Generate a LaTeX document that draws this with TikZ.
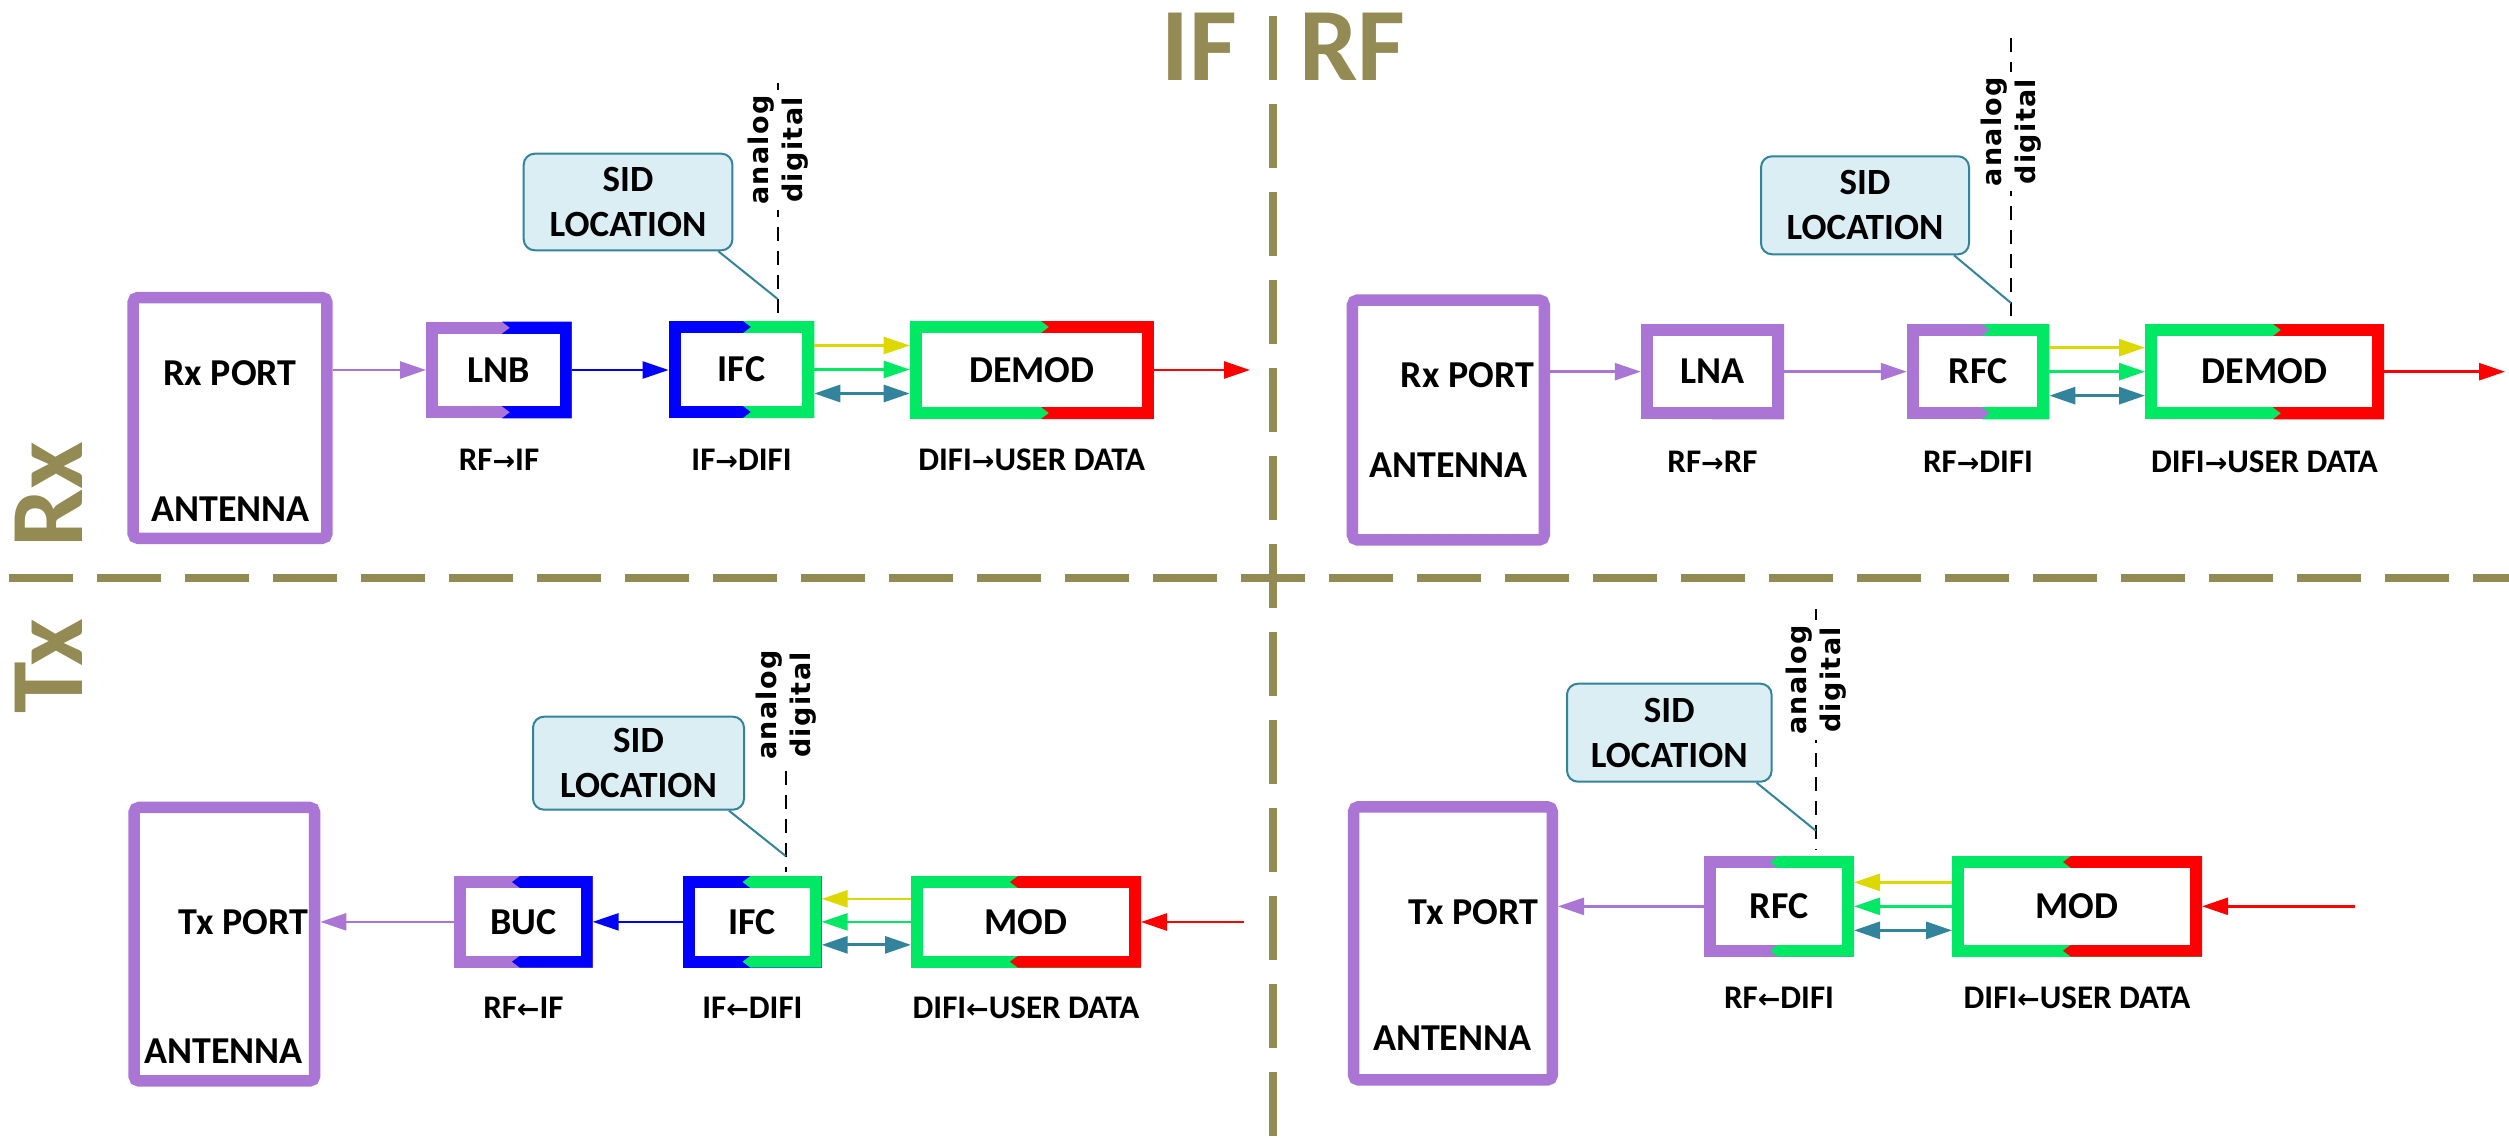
\documentclass[tikz,border=0pt]{standalone}
\usepackage{fontspec}
\setmainfont{Carlito}
\newfontfamily\dvls{DejaVu Sans}[LetterSpace=5]
\newfontfamily\dvar{DejaVu Sans}
\usetikzlibrary{arrows.meta,calc}
\definecolor{olive}{HTML}{948A54}
\definecolor{cpurple}{RGB}{171,117,214}
\definecolor{cblue}{RGB}{0,0,255}
\definecolor{cgreen}{RGB}{0,232,100}
\definecolor{cred}{RGB}{255,0,0}
\definecolor{cyellow}{RGB}{221,216,0}
\definecolor{cteal}{RGB}{49,132,155}
\definecolor{sidfill}{RGB}{219,238,244}
\newcommand\myra{{\dvar\fontsize{27}{27}\selectfont →}}
\newcommand\myla{{\dvar\fontsize{27}{27}\selectfont ←}}
\def\chev{8}
\newcommand\dbox[9]{%
  \fill[#7] (#2,#3) rectangle (#4,#5);
  \fill[#8] (#6,#3) -- (#4,#3) -- (#4,#5) -- (#6,#5) -- ++(\chev,-6) -- ++(-\chev,-6) -- (#6,#3+12) -- ++(\chev,-6) -- cycle;
  \fill[white] (#2+12,#3+12) rectangle (#4-12,#5-12);
  \node[boxtext, minimum width={(#4-#2)*1pt}, minimum height={(#5-#3)*1pt}] (#1) at ({(#2+#4)/2},{(#3+#5)/2}) {#9};
}
\tikzset{
  boxtext/.style={font=\fontsize{38}{44}\selectfont\bfseries, inner sep=0pt, outer sep=0pt},
  lbl/.style={font=\fontsize{33}{36}\selectfont\bfseries, inner sep=0pt},
  heading/.style={font=\fontsize{104}{110}\selectfont\bfseries, text=olive, inner sep=0pt},
  antenna/.style={draw=cpurple, line width=11.5pt, rounded corners=5pt, inner sep=0pt},
  sid/.style={draw=cteal, line width=2pt, fill=sidfill, rounded corners=11pt, align=center, font=\fontsize{37}{45}\selectfont\bfseries, inner sep=0pt},
  adtext/.style={rotate=90, fill=white, align=center, font=\dvls\fontsize{27}{34}\selectfont\bfseries, inner sep=5pt},
  adline/.style={draw=black, line width=2pt, dash pattern=on 14pt off 10pt},
  divider/.style={draw=olive, line width=8pt, dash pattern=on 64pt off 24pt},
  sigarrow/.style={line width=2.5pt, -{Triangle[length=26pt,width=17pt]}},
  dblarrow/.style={line width=3pt, {Triangle[length=26pt,width=17pt]}-{Triangle[length=26pt,width=17pt]}, draw=cteal},
  callout/.style={draw=cteal, line width=2pt},
}
\begin{document}
\begin{tikzpicture}[x=1pt,y=-1pt]
\useasboundingbox (0,0) rectangle (2509,1138);
\fill[white] (0,0) rectangle (2509,1138);

% dividers and headings
\coordinate (vtop) at (1272.5,16);
\coordinate (vbot) at (1272.5,1138);
\coordinate (hleft) at (9.3,578);
\coordinate (hright) at (2509,578);
\draw[divider] (vtop) -- (vbot);
\draw[divider] (hleft) -- (hright);
\node[heading, anchor=base east] (hIF) at (1237,80) {IF};
\node[heading, anchor=base west] (hRF) at (1299,80) {RF};
\node[heading, rotate=90, anchor=base west] (hRx) at (82.7,548) {Rx};
\node[heading, rotate=90, anchor=base west] (hTx) at (82.7,714) {Tx};

% ===== Rx IF =====
\def\chev{8}
\node[antenna, minimum width=193.9pt, minimum height=240.8pt] (antA) at (230,417.9) {};
\node[boxtext] (rxportA) at (230,373) {Rx PORT};
\node[boxtext] (antlblA) at (230.5,509) {ANTENNA};
\dbox{lnbA}{426}{321.7}{571.7}{418.3}{502}{cpurple}{cblue}{LNB}
\dbox{ifcA}{668.6}{321}{814.3}{418}{743}{cblue}{cgreen}{IFC}
\dbox{demodA}{909.7}{321}{1153.8}{419}{1041}{cgreen}{cred}{DEMOD}
\node[lbl] (lA1) at (499,460) {RF\myra IF};
\node[lbl] (lA2) at (741.5,460) {IF\myra DIFI};
\node[lbl] (lA3) at (1031.7,460) {DIFI\myra USER DATA};
\draw[sigarrow, cpurple] (antA.east |- lnbA.west) -- (lnbA.west);
\draw[sigarrow, cblue] (lnbA.east) -- (ifcA.west |- lnbA.east);
\draw[sigarrow, cyellow] ($(ifcA.east)+(0,-24)$) -- ($(demodA.west |- ifcA.east)+(0,-24)$);
\draw[sigarrow, cgreen] (ifcA.east) -- (demodA.west |- ifcA.east);
\draw[dblarrow] ($(ifcA.east)+(0,24)$) -- ($(demodA.west |- ifcA.east)+(0,24)$);
\coordinate (outA) at (1250,370);
\draw[sigarrow, cred] (demodA.east |- outA) -- (outA);
\node[sid, minimum width=208.7pt, minimum height=96.6pt] (sidA) at (628.05,202) {SID\\LOCATION};
\coordinate (adtopA) at (777.7,83);
\coordinate (adbotA) at (777.7,318);
\coordinate (cpA) at (777.7,299);
\draw[adline] (adtopA) -- (adbotA);
\node[adtext] (adA) at (777.7,150) {analog\\digital};
\draw[callout] ($(sidA.south east)+(-15,0)$) -- (cpA);

% ===== Rx RF =====
\node[antenna, minimum width=191.8pt, minimum height=239.9pt] (antB) at (1448.35,420) {};
\node[boxtext] (rxportB) at (1467.5,375) {Rx PORT};
\node[boxtext] (antlblB) at (1448.4,465) {ANTENNA};
\dbox{lnaB}{1640.8}{324}{1784.2}{419.3}{1712}{cpurple}{cpurple}{LNA}
\dbox{rfcB}{1906.8}{324}{2049.4}{419.3}{1982}{cpurple}{cgreen}{RFC}
\dbox{demodB}{2145}{324}{2384}{419.3}{2273}{cgreen}{cred}{DEMOD}
\node[lbl] (lB1) at (1712.5,462) {RF\myra RF};
\node[lbl] (lB2) at (1978,462) {RF\myra DIFI};
\node[lbl] (lB3) at (2264.5,462) {DIFI\myra USER DATA};
\draw[sigarrow, cpurple] (antB.east |- lnaB.west) -- (lnaB.west);
\draw[sigarrow, cpurple] (lnaB.east) -- (rfcB.west |- lnaB.east);
\draw[sigarrow, cyellow] ($(rfcB.east)+(0,-24)$) -- ($(demodB.west |- rfcB.east)+(0,-24)$);
\draw[sigarrow, cgreen] (rfcB.east) -- (demodB.west |- rfcB.east);
\draw[dblarrow] ($(rfcB.east)+(0,24)$) -- ($(demodB.west |- rfcB.east)+(0,24)$);
\coordinate (outB) at (2505,371.7);
\draw[sigarrow, cred] (demodB.east |- outB) -- (outB);
\node[sid, minimum width=208pt, minimum height=98pt] (sidB) at (1865,205.3) {SID\\LOCATION};
\coordinate (adtopB) at (2011,38);
\coordinate (adbotB) at (2011,320);
\coordinate (cpB) at (2011,303);
\draw[adline] (adtopB) -- (adbotB);
\node[adtext] (adB) at (2011,131.7) {analog\\digital};
\draw[callout] ($(sidB.south east)+(-16,0)$) -- (cpB);

% ===== Tx IF =====
\def\chev{-8}
\node[antenna, minimum width=180.6pt, minimum height=273.5pt] (antC) at (224.35,944.2) {};
\node[boxtext] (txportC) at (243.5,922.5) {Tx PORT};
\node[boxtext] (antlblC) at (223.5,1051) {ANTENNA};
\dbox{bucC}{454}{876}{592.7}{967.7}{520}{cpurple}{cblue}{BUC}
\dbox{ifcC}{683}{876}{821.7}{967.7}{750.5}{cblue}{cgreen}{IFC}
\dbox{modC}{911}{876}{1141}{967.7}{1018}{cgreen}{cred}{MOD}
\node[lbl] (lC1) at (523.4,1008) {RF\myla IF};
\node[lbl] (lC2) at (752.4,1008) {IF\myla DIFI};
\node[lbl] (lC3) at (1026,1008) {DIFI\myla USER DATA};
\draw[sigarrow, cpurple] (bucC.west) -- (antC.east |- bucC.west);
\draw[sigarrow, cblue] (ifcC.west) -- (bucC.east |- ifcC.west);
\draw[sigarrow, cyellow] ($(modC.west)+(0,-23)$) -- ($(ifcC.east |- modC.west)+(0,-23)$);
\draw[sigarrow, cgreen] (modC.west) -- (ifcC.east |- modC.west);
\draw[dblarrow] ($(ifcC.east)+(0,23)$) -- ($(modC.west |- ifcC.east)+(0,23)$);
\coordinate (inC) at (1244,922);
\draw[sigarrow, cred] (inC) -- (modC.east |- inC);
\node[sid, minimum width=211pt, minimum height=93pt] (sidC) at (638.5,763.2) {SID\\LOCATION};
\coordinate (adtopC) at (785.7,651);
\coordinate (adbotC) at (785.7,872);
\coordinate (cpC) at (785.7,856);
\draw[adline] (adtopC) -- (adbotC);
\node[adtext] (adC) at (785.7,705) {analog\\digital};
\draw[callout] ($(sidC.south east)+(-16,0)$) -- (cpC);

% ===== Tx RF =====
\node[antenna, minimum width=198.7pt, minimum height=273.2pt] (antD) at (1452.9,943.35) {};
\node[boxtext] (txportD) at (1473.5,911.7) {Tx PORT};
\node[boxtext] (antlblD) at (1452.3,1038) {ANTENNA};
\dbox{rfcD}{1704}{856}{1854}{956.7}{1778}{cpurple}{cgreen}{RFC}
\dbox{modD}{1952}{856}{2202}{956.7}{2071}{cgreen}{cred}{MOD}
\node[lbl] (lD1) at (1779,998) {RF\myla DIFI};
\node[lbl] (lD2) at (2077,998) {DIFI\myla USER DATA};
\draw[sigarrow, cpurple] (rfcD.west) -- (antD.east |- rfcD.west);
\draw[sigarrow, cyellow] ($(modD.west)+(0,-24)$) -- ($(rfcD.east |- modD.west)+(0,-24)$);
\draw[sigarrow, cgreen] (modD.west) -- (rfcD.east |- modD.west);
\draw[dblarrow] ($(rfcD.east)+(0,24)$) -- ($(modD.west |- rfcD.east)+(0,24)$);
\coordinate (inD) at (2354.7,906.3);
\draw[sigarrow, cred] (inD) -- (modD.east |- inD);
\node[sid, minimum width=204.6pt, minimum height=98pt] (sidD) at (1669.3,732.7) {SID\\LOCATION};
\coordinate (adtopD) at (1815.8,609);
\coordinate (adbotD) at (1815.8,850);
\coordinate (cpD) at (1815.8,830.7);
\draw[adline] (adtopD) -- (adbotD);
\node[adtext] (adD) at (1815.8,680) {analog\\digital};
\draw[callout] ($(sidD.south east)+(-16,0)$) -- (cpD);
\end{tikzpicture}
\end{document}
